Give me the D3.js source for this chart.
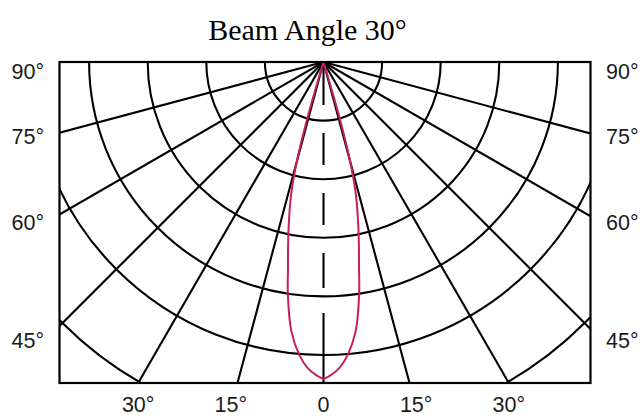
<!DOCTYPE html>
<html>
<head>
<meta charset="utf-8">
<script src="https://cdn.jsdelivr.net/npm/d3@7"></script>
<style>
  body { margin: 0; background: #fff; }
  text { fill: #1a1a1a; }
</style>
</head>
<body>
<svg id="chart" width="644" height="419"></svg>
<script>
// chart values
const chartTitle = 'Beam Angle 30°';
const spokeAngles = [-75, -60, -45, -30, -15, 15, 30, 45, 60, 75];
const ringLevels = [1, 2, 3, 4, 5, 6.3];
const sideLabels = [90, 75, 60, 45];
const bottomLabels = ['30°', '15°', '0', '15°', '30°'];
// half of the beam curve, mirrored for the other side
const beamAngles = [0, 1.4, 2.95, 4.7, 6.8, 8.7, 9.7, 11.6, 13.6, 14.9, 16.0, 16.8];
const beamIntensity = [5.40, 5.34, 5.23, 5.02, 4.63, 4.02, 3.60, 2.98, 2.37, 1.82, 1.03, 0];

const svg = d3.select('#chart');
const box = { left: 59.5, right: 590.5, top: 62, bottom: 383 };
const cx = 323.5, cy = box.top;

const r = d3.scaleLinear().domain([0, 1]).range([0, 58.6]);
const rad = d => d * Math.PI / 180;
const px = (a, v) => cx + r(v) * Math.sin(rad(a));
const py = (a, v) => cy + r(v) * Math.cos(rad(a));

svg.append('defs').append('clipPath')
    .attr('id', 'plot-clip')
    .append('rect')
    .attr('x', box.left)
    .attr('y', box.top)
    .attr('width', box.right - box.left)
    .attr('height', box.bottom - box.top);

const grid = svg.append('g').attr('clip-path', 'url(#plot-clip)');

grid.selectAll('circle.ring')
    .data(ringLevels)
    .enter().append('circle')
    .attr('class', 'ring')
    .attr('cx', cx)
    .attr('cy', cy)
    .attr('r', d => r(d))
    .attr('fill', 'none')
    .attr('stroke', '#000')
    .attr('stroke-width', 2.1);

grid.selectAll('line.spoke')
    .data(spokeAngles)
    .enter().append('line')
    .attr('class', 'spoke')
    .attr('x1', cx)
    .attr('y1', cy)
    .attr('x2', d => px(d, 20))
    .attr('y2', d => py(d, 20))
    .attr('stroke', '#000')
    .attr('stroke-width', 2.1);

// centre line, dashed
grid.append('line')
    .attr('x1', cx)
    .attr('y1', cy)
    .attr('x2', cx)
    .attr('y2', box.bottom)
    .attr('stroke', '#000')
    .attr('stroke-width', 2.1)
    .attr('stroke-dasharray', '43,28,32,28,32,28,35,25,80');

// beam curve
const half = beamAngles.map((a, i) => [a, beamIntensity[i]]);
const beamPts = half.slice().reverse().map(d => [-d[0], d[1]]).concat(half.slice(1));
grid.append('path')
    .datum(beamPts)
    .attr('d', d3.line()
        .x(d => px(d[0], d[1]))
        .y(d => py(d[0], d[1]))
        .curve(d3.curveCatmullRom.alpha(0.5)))
    .attr('fill', 'none')
    .attr('stroke', '#c81e64')
    .attr('stroke-width', 2);

svg.append('rect')
    .attr('x', box.left)
    .attr('y', box.top)
    .attr('width', box.right - box.left)
    .attr('height', box.bottom - box.top)
    .attr('fill', 'none')
    .attr('stroke', '#000')
    .attr('stroke-width', 2.2);

// title
svg.append('text')
    .attr('x', 307.5)
    .attr('y', 39.5)
    .attr('text-anchor', 'middle')
    .attr('font-family', 'Liberation Serif, Times New Roman, serif')
    .attr('font-size', 30)
    .style('fill', '#000')
    .text(chartTitle);

// side labels
const sideY = d => Math.max(cy + 278 / Math.tan(rad(d)), cy + 9);
const labelFont = 'Liberation Sans, Arial, sans-serif';
[{ x: 44, anchor: 'end' }, { x: 606, anchor: 'start' }].forEach(s => {
    svg.selectAll(null)
        .data(sideLabels)
        .enter().append('text')
        .attr('x', s.x)
        .attr('y', d => sideY(d))
        .attr('dy', '0.36em')
        .attr('text-anchor', s.anchor)
        .attr('font-family', labelFont)
        .attr('font-size', 21.5)
        .text(d => d + '°');
});

// bottom labels
const hit30 = (box.bottom - cy) * Math.tan(rad(30));
const bx = d3.scalePoint()
    .domain(d3.range(bottomLabels.length))
    .range([cx - hit30, cx + hit30]);
svg.selectAll('text.bottom')
    .data(bottomLabels)
    .enter().append('text')
    .attr('class', 'bottom')
    .attr('x', (d, i) => bx(i))
    .attr('y', 412)
    .attr('text-anchor', 'middle')
    .attr('font-family', labelFont)
    .attr('font-size', 21.5)
    .text(d => d);
</script>
</body>
</html>
